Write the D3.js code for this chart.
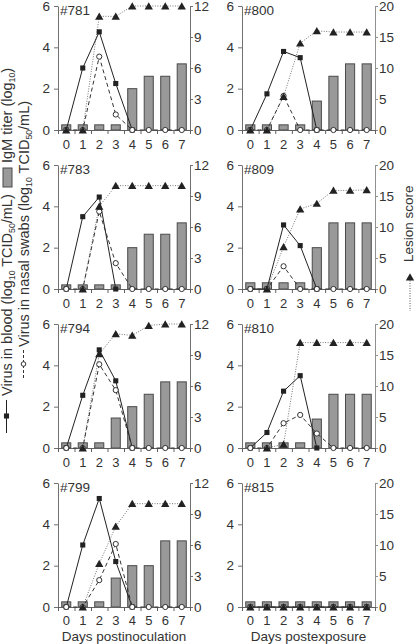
<!DOCTYPE html>
<html><head><meta charset="utf-8">
<script src="https://cdn.jsdelivr.net/npm/d3@7"></script>
<style>
body{margin:0;background:#fff}
svg{display:block}
text{font-family:"Liberation Sans",Arial,sans-serif;fill:#333}
</style>
</head><body>
<svg id="c" width="416" height="644"></svg>
<script>
// ---------- data ----------
const days = [0,1,2,3,4,5,6,7];
const animals = ["#781","#800","#783","#809","#794","#810","#799","#815"];
const leftTicks = [0,2,4,6];
const lesionTicksInoc = [0,3,6,9,12];
const lesionTicksExpo = [0,5,10,15,20];

const igm781 = [0.25,0.25,0.25,0.25,2.0,2.6,2.6,3.2];
const blood781 = [0,3.0,4.75,2.25,0,null,null,null];
const nasal781 = [0,0,3.55,0.75,0,0,0,0];
const lesion781 = [0,0,11,11,12,12,12,12];

const igm800 = [0.25,0.25,0.25,0.25,1.4,2.6,3.2,3.2];
const blood800 = [0,1.75,3.8,3.5,0,null,null,null];
const nasal800 = [0,0,1.65,0,0,0,0,0];
const lesion800 = [0,0,5.4,14,16,15.8,15.8,15.8];

const igm783 = [0.2,0.2,0.2,0.2,2.0,2.65,2.65,3.2];
const blood783 = [0,3.5,4.45,0,null,null,null,null];
const nasal783 = [0,0,3.75,1.25,0,0,0,0];
const lesion783 = [null,0,8,10,10,10,10,10];

const igm809 = [0.3,0.3,0.3,0.3,2.0,3.2,3.2,3.2];
const blood809 = [0,0,3.1,2.1,0,null,null,null];
const nasal809 = [0,0,1.1,0,0,0,0,0];
const lesion809 = [null,0,6.8,12.9,13.8,15.9,15.9,16.0];

const igm794 = [0.25,0.25,0.25,1.45,2.0,2.6,3.2,3.2];
const blood794 = [0,2.55,4.75,3.25,0,null,null,null];
const nasal794 = [0,0,4.05,2.8,0,0,0,0];
const lesion794 = [null,0,9.1,11.05,10.9,11.85,12,12];

const igm810 = [0.25,0.25,0.25,0.25,1.4,2.6,2.6,2.6];
const blood810 = [0,0.75,2.75,3.5,0,null,null,null];
const nasal810 = [0,0,1.2,1.6,0.7,0,0,0];
const lesion810 = [null,0,0.6,17,17,17,17,17];

const igm799 = [0.25,0.25,0.25,1.4,2.0,2.0,3.2,3.2];
const blood799 = [0,3.0,5.25,2.2,0,null,null,null];
const nasal799 = [0,0,1.3,3.05,0,0,0,0];
const lesion799 = [null,0,4.2,7.8,10,10,10,10];

const igm815 = [0.25,0.25,0.25,0.25,0.25,0.25,0.25,0.25];
const blood815 = [0,0,0,0,0,0,0,0];
const nasal815 = [0,0,0,0,0,0,0,0];
const lesion815 = [0,0,0,0,0,0,0,0];

const panels = [
  {name:animals[0], igm:igm781, blood:blood781, nasal:nasal781, lesion:lesion781, lt:lesionTicksInoc},
  {name:animals[1], igm:igm800, blood:blood800, nasal:nasal800, lesion:lesion800, lt:lesionTicksExpo},
  {name:animals[2], igm:igm783, blood:blood783, nasal:nasal783, lesion:lesion783, lt:lesionTicksInoc},
  {name:animals[3], igm:igm809, blood:blood809, nasal:nasal809, lesion:lesion809, lt:lesionTicksExpo},
  {name:animals[4], igm:igm794, blood:blood794, nasal:nasal794, lesion:lesion794, lt:lesionTicksInoc},
  {name:animals[5], igm:igm810, blood:blood810, nasal:nasal810, lesion:lesion810, lt:lesionTicksExpo},
  {name:animals[6], igm:igm799, blood:blood799, nasal:nasal799, lesion:lesion799, lt:lesionTicksInoc},
  {name:animals[7], igm:igm815, blood:blood815, nasal:nasal815, lesion:lesion815, lt:lesionTicksExpo}
];

// ---------- layout ----------
const svg = d3.select("#c");
const colX = [[58,190],[242,375]];
const rowTop = [6,165,324,483];
const ph = 124;
const FS = 13.5;

const tri = d3.symbol().type(d3.symbolTriangle).size(30);
const sq = d3.symbol().type(d3.symbolSquare).size(26);

panels.forEach((p,i)=>{
  const col = i%2, row = Math.floor(i/2);
  const [x0,x1] = colX[col];
  const yTop = rowTop[row], yBot = yTop+ph;
  const x = d3.scaleBand().domain(days).range([x0,x1]).paddingInner(0.45).paddingOuter(0.225);
  const cx = d => x(d)+x.bandwidth()/2;
  const xb = d3.scaleLinear().domain([0,days.length]).range([x0,x1]);
  const y = d3.scaleLinear().domain([0,6]).range([yBot,yTop]);
  const lmax = p.lt[p.lt.length-1];
  const y2 = d3.scaleLinear().domain([0,lmax]).range([yBot,yTop]);
  const g = svg.append("g");

  // bars
  g.selectAll("rect.bar").data(days).join("rect")
    .attr("x",d=>x(d)).attr("width",x.bandwidth())
    .attr("y",d=>y(p.igm[d])).attr("height",d=>yBot-y(p.igm[d]))
    .attr("fill","#999").attr("stroke","#4a4a4a").attr("stroke-width",1);

  // axes
  const ax = g.append("g").attr("transform",`translate(${x0},0)`)
    .call(d3.axisLeft(y).tickValues(leftTicks).tickFormat(d3.format("d")).tickSize(4).tickPadding(4).tickSizeOuter(0));
  const ax2 = g.append("g").attr("transform",`translate(${x1},0)`)
    .call(d3.axisRight(y2).tickValues(p.lt).tickFormat(d3.format("d")).tickSize(3).tickPadding(1).tickSizeOuter(0));
  const axb = g.append("g").attr("transform",`translate(0,${yBot})`)
    .call(d3.axisBottom(xb).tickValues(d3.range(0,days.length+1)).tickFormat("").tickSize(4).tickSizeOuter(0));
  const axl = g.append("g").attr("transform",`translate(0,${yBot})`)
    .call(d3.axisBottom(x).tickSize(0).tickPadding(row===3?9:10));
  axl.select(".domain").remove();
  [ax,ax2,axb,axl].forEach(a=>{
    a.attr("font-family",null).attr("font-size",null);
    a.selectAll("text").style("font-size",(a===axl?13:FS)+"px").attr("fill","#333");
  });
  ax.selectAll("path,line").attr("stroke","#707070");
  axb.selectAll("path,line").attr("stroke","#606060");
  ax2.selectAll("path,line").attr("stroke", col===0 ? "#707070" : "#909090");

  // lines
  const lineB = d3.line().defined(d=>p.blood[d]!=null).x(cx).y(d=>y(p.blood[d]));
  const lineN = d3.line().defined(d=>p.nasal[d]!=null).x(cx).y(d=>y(p.nasal[d]));
  const lineL = d3.line().defined(d=>p.lesion[d]!=null).x(cx).y(d=>y2(p.lesion[d]));
  g.append("path").attr("d",lineL(days)).attr("fill","none").attr("stroke","#777").attr("stroke-width",1).attr("stroke-dasharray","1,1.5");
  g.append("path").attr("d",lineB(days)).attr("fill","none").attr("stroke","#222").attr("stroke-width",1);
  g.append("path").attr("d",lineN(days)).attr("fill","none").attr("stroke","#333").attr("stroke-width",1).attr("stroke-dasharray","4,3");

  // markers
  g.selectAll("path.sq").data(days.filter(d=>p.blood[d]!=null)).join("path")
    .attr("transform",d=>`translate(${cx(d)},${y(p.blood[d])})`).attr("d",sq).attr("fill","#222");
  g.selectAll("circle.n").data(days.filter(d=>p.nasal[d]!=null)).join("circle")
    .attr("cx",cx).attr("cy",d=>y(p.nasal[d])).attr("r",2.6)
    .attr("fill","#fff").attr("stroke","#333").attr("stroke-width",1);
  g.selectAll("path.tr").data(days.filter(d=>p.lesion[d]!=null)).join("path")
    .attr("transform",d=>`translate(${cx(d)},${y2(p.lesion[d])+1})`).attr("d",tri).attr("fill","#222");

  // panel label
  g.append("text").attr("x",x0+2).attr("y",yTop+9).text(p.name).style("font-size","13.5px");
});

// x titles
svg.append("text").attr("x",124).attr("y",641).attr("text-anchor","middle").style("font-size","13.5px").text("Days postinoculation");
svg.append("text").attr("x",308.5).attr("y",641).attr("text-anchor","middle").style("font-size","13.5px").text("Days postexposure");

// rotated labels
function rlabel(xb, ystart, parts, fs){
  const t = svg.append("text").attr("transform",`translate(${xb},${ystart}) rotate(-90)`).style("font-size",fs+"px");
  let prevSub = false;
  parts.forEach(([s,sub])=>{
    const ts = t.append("tspan").text(s);
    if(sub){ ts.style("font-size",(fs*0.6)+"px").attr("dy",3); }
    else if(prevSub){ ts.attr("dy",-3); }
    prevSub = !!sub;
  });
  return t;
}
rlabel(12, 396, [["Virus in blood (log",0],["10",1],[" TCID",0],["50",1],["/mL)",0]], 14.5);
rlabel(12, 163, [["IgM titer (log",0],["10",1],[")",0]], 14.5);
rlabel(29, 347, [["Virus in nasal swabs (log",0],["10",1],[" TCID",0],["50",1],["/mL)",0]], 14.5);
svg.append("text").attr("transform","translate(413,262) rotate(-90)").style("font-size","13.5px").text("Lesion score");

// legend marks
svg.append("line").attr("x1",6.5).attr("x2",6.5).attr("y1",400).attr("y2",433).attr("stroke","#222");
svg.append("path").attr("transform","translate(6.5,416)").attr("d",sq).attr("fill","#222");
svg.append("rect").attr("x",3).attr("y",168).attr("width",9).attr("height",19).attr("fill","#999").attr("stroke","#4a4a4a");
svg.append("line").attr("x1",23.5).attr("x2",23.5).attr("y1",350).attr("y2",379).attr("stroke","#333").attr("stroke-dasharray","3,2");
svg.append("circle").attr("cx",23.5).attr("cy",364).attr("r",2.3).attr("fill","#fff").attr("stroke","#333");
svg.append("line").attr("x1",410).attr("x2",410).attr("y1",278).attr("y2",311).attr("stroke","#555").attr("stroke-dasharray","1,1.5");
svg.append("path").attr("transform","translate(410,278)").attr("d",tri).attr("fill","#222");
</script>
</body></html>
